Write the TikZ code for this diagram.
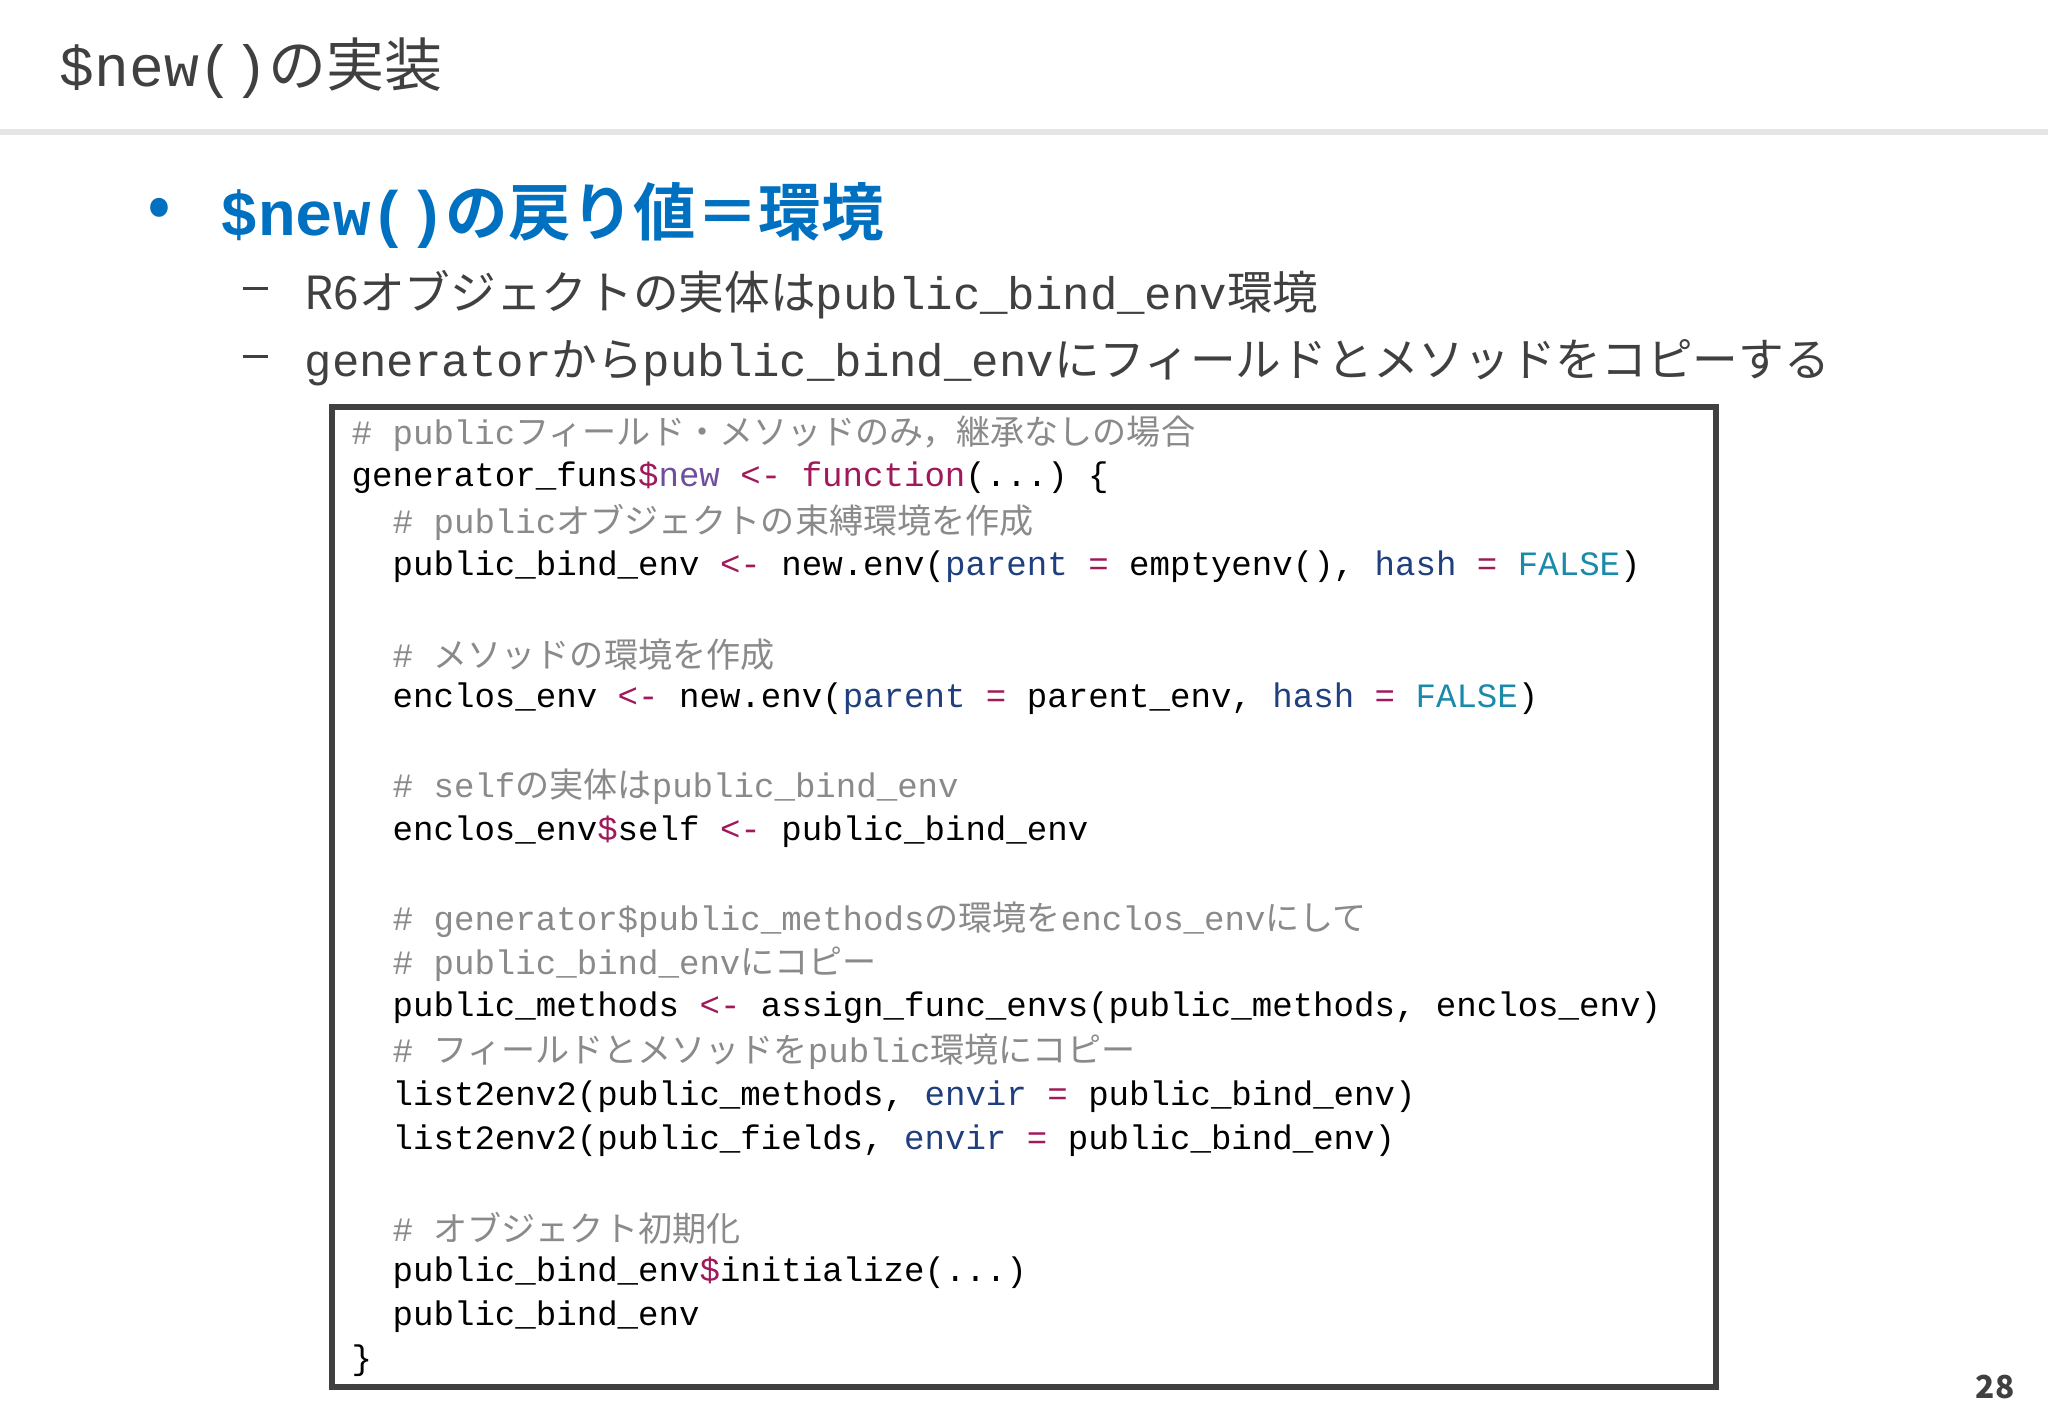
\documentclass[tikz,border=0pt]{standalone}
\usepackage{fontspec}
\setmainfont{Noto Sans CJK JP}
\setmonofont{Liberation Mono}
\newfontfamily\cjk{Noto Sans CJK JP}
\newfontfamily\cjkb{Noto Sans CJK JP}[BoldFont={Noto Sans CJK JP Bold}]
\definecolor{cmtc}{HTML}{8A8A8A}
\definecolor{opc}{HTML}{A0195A}
\definecolor{newc}{HTML}{6F4E9E}
\definecolor{argc}{HTML}{1F3F7F}
\definecolor{boolc}{HTML}{1A8AAA}
\definecolor{titlec}{HTML}{404040}
\definecolor{headc}{HTML}{0070C0}
\newcommand\Cm[1]{\textcolor{cmtc}{#1}}
\newcommand\Op[1]{\textcolor{opc}{#1}}
\newcommand\Ar[1]{\textcolor{argc}{#1}}
\newcommand\Bo[1]{\textcolor{boolc}{#1}}
\newcommand\J[1]{{\cjk #1}}
\tikzset{codeline/.style={anchor=west,inner sep=0pt,font=\ttfamily\fontsize{9.7pt}{11pt}\selectfont,text=black},
subline/.style={anchor=west,inner sep=0pt,font=\fontsize{13pt}{16pt}\selectfont,text=titlec}}
\begin{document}
\begin{tikzpicture}[x=1cm,y=1cm]
\useasboundingbox (0,0) rectangle (20.48,-14.18);
\fill[white] (0,0) rectangle (20.48,-14.18);
\fill[black!10] (0,-1.29) rectangle (20.48,-1.35);
\node[anchor=west,inner sep=0pt,font=\fontsize{16.5pt}{20pt}\selectfont,text=titlec] (title) at (0.59,-0.68) {\ttfamily\$new()\J{の実装}};
\node[anchor=center,inner sep=0pt,font=\fontsize{20pt}{20pt}\selectfont,text=headc] (bul) at (1.59,-2.13) {•};
\node[anchor=west,inner sep=0pt,font=\bfseries\fontsize{17.8pt}{22pt}\selectfont,text=headc] (head) at (2.20,-2.15) {{\ttfamily\bfseries \$new()}{\cjkb\bfseries の戻り値＝環境}};
\node[subline] (d1) at (2.42,-2.95) {\rule[0.3em]{0.55em}{0.06em}};
\node[subline] (s1) at (3.04,-2.95) {R6オブジェクトの実体は{\ttfamily public\_bind\_env}環境};
\node[subline] (d2) at (2.42,-3.63) {\rule[0.3em]{0.55em}{0.06em}};
\node[subline] (s2) at (3.04,-3.63) {{\ttfamily generator}から{\ttfamily public\_bind\_env}にフィールドとメソッドをコピーする};
\draw[line width=1.6pt,draw=titlec] (3.32,-4.07) rectangle (17.16,-13.87);
\def\L#1#2{\node[codeline] (l#1) at (3.51,{-(4.34+0.4415*#1)}) {#2};}
\def\M#1#2{\node[codeline] (l#1) at (3.92,{-(4.34+0.4415*#1)}) {#2};}
\L{0}{\Cm{\# public\J{フィールド・メソッドのみ，継承なしの場合}}}
\L{1}{generator\_funs\Op{\$}\textcolor{newc}{new} \Op{<-} \Op{function}(...) \{}
\M{2}{\Cm{\# public\J{オブジェクトの束縛環境を作成}}}
\M{3}{public\_bind\_env \Op{<-} new.env(\Ar{parent} \Op{=} emptyenv(), \Ar{hash} \Op{=} \Bo{FALSE})}
\M{5}{\Cm{\# \J{メソッドの環境を作成}}}
\M{6}{enclos\_env \Op{<-} new.env(\Ar{parent} \Op{=} parent\_env, \Ar{hash} \Op{=} \Bo{FALSE})}
\M{8}{\Cm{\# self\J{の実体は}public\_bind\_env}}
\M{9}{enclos\_env\Op{\$}self \Op{<-} public\_bind\_env}
\M{11}{\Cm{\# generator\$public\_methods\J{の環境を}enclos\_env\J{にして}}}
\M{12}{\Cm{\# public\_bind\_env\J{にコピー}}}
\M{13}{public\_methods \Op{<-} assign\_func\_envs(public\_methods, enclos\_env)}
\M{14}{\Cm{\# \J{フィールドとメソッドを}public\J{環境にコピー}}}
\M{15}{list2env2(public\_methods, \Ar{envir} \Op{=} public\_bind\_env)}
\M{16}{list2env2(public\_fields, \Ar{envir} \Op{=} public\_bind\_env)}
\M{18}{\Cm{\# \J{オブジェクト初期化}}}
\M{19}{public\_bind\_env\Op{\$}initialize(...)}
\M{20}{public\_bind\_env}
\L{21}{\}}
\node[anchor=east,inner sep=0pt,font=\bfseries\fontsize{9pt}{10pt}\selectfont,text=titlec] (pg) at (20.15,-13.87) {28};
\end{tikzpicture}
\end{document}
